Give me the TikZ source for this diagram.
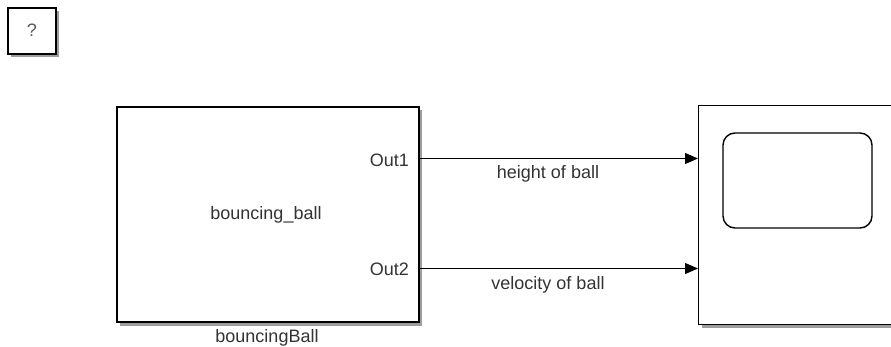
\documentclass[tikz,border=0pt]{standalone}
\usepackage{fontspec}
\setmainfont{Liberation Sans}
\usetikzlibrary{shadows,arrows.meta}
\begin{document}
\begin{tikzpicture}[x=1pt,y=-1pt,
  blk/.style={draw=black,line width=1.4pt,fill=white,
    drop shadow={shadow xshift=3pt,shadow yshift=-3.5pt,opacity=0.55,fill=black!70}},
  lbl/.style={font=\fontsize{18}{21}\selectfont,text=black!80,inner sep=0pt},
  sig/.style={line width=1.1pt,-{Triangle[length=13pt,width=11pt]}}]
\useasboundingbox (0,0) rectangle (891,347);
\begin{scope}
\clip (0,0) rectangle (891,347);
% help block
\node[blk,minimum width=48pt,minimum height=46pt,inner sep=0pt] (q) at (32,31) {};
\node[lbl,text=black!65] (qt) at (32,30.5) {?};
% subsystem
\node[blk,minimum width=302pt,minimum height=215pt,inner sep=0pt] (sub) at (268,214.5) {};
\node[lbl] (subname) at (266,215) {bouncing\_ball};
\node[lbl,anchor=east] (o1) at (409,160) {Out1};
\node[lbl,anchor=east] (o2) at (409,269) {Out2};
\node[lbl] (subcap) at (267,338) {bouncingBall};
% scope
\node[blk,minimum width=240pt,minimum height=219pt,inner sep=0pt,anchor=north west] (scope) at (698,105) {};
\draw[line width=1.4pt,rounded corners=12pt] (723,133) rectangle (872,228);
\coordinate (p1) at (419,158.5);
\coordinate (p2) at (419,268.5);
\coordinate (i1) at (698,158.5);
\coordinate (i2) at (698,268.5);
\draw[sig] (p1) -- (i1);
\draw[sig] (p2) -- (i2);
\node[lbl] (l1) at (548,174) {height of ball};
\node[lbl] (l2) at (548,285) {velocity of ball};
\end{scope}
\end{tikzpicture}
\end{document}
